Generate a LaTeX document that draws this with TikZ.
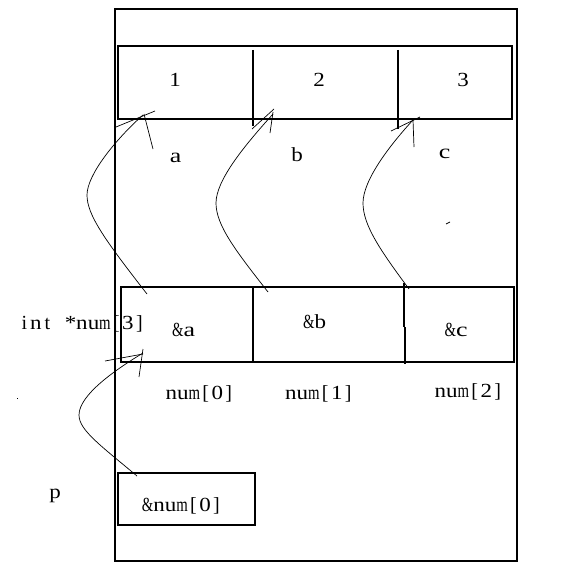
\documentclass[tikz,border=0pt]{standalone}
\usepackage{graphicx}
\usepackage{fontspec}
\newfontfamily\serifcode{Liberation Serif}
\newsavebox\charbox
\newcommand\mc[1]{\sbox\charbox{#1}%
  \ifdim\wd\charbox>8pt
    \resizebox{11.5pt}{\height}{\usebox\charbox}%
  \else
    \makebox[11.5pt]{\usebox\charbox}%
  \fi}
\def\monostr#1{\monoloop#1\relax}
\def\monoloop#1{\ifx#1\relax\else\mc{#1}\expandafter\monoloop\fi}
\begin{document}
\begin{tikzpicture}[x=1pt,y=-1pt,
  box/.style={draw,line width=1.1pt},
  divline/.style={line width=1.1pt},
  txt/.style={font=\serifcode\fontsize{20}{20}\selectfont,inner sep=0pt,anchor=base},
  hand/.style={line width=0.7pt}]
\useasboundingbox (0,0) rectangle (569,578);
% outer frame
\draw[box] (115,9) rectangle (517,561);
% top array
\draw[box] (118,46) rectangle (512,119);
\draw[divline] (253,50) -- (253,126);
\draw[divline] (398,50) -- (398,129);
% middle array
\draw[box] (121,287) rectangle (514,362);
\draw[divline] (253,287) -- (253,362);
\draw[divline] (404,283) -- (404,327) (405,327) -- (405,364);
% bottom box
\draw[box] (118,473) rectangle (255,525);
% texts
\node[txt] (v1) at (175,86) {\monostr{1}};
\node[txt] (v2) at (319,86) {\monostr{2}};
\node[txt] (v3) at (463,86) {\monostr{3}};
\node[txt] (la) at (175.5,162) {\monostr{a}};
\node[txt] (lb) at (297,161) {\monostr{b}};
\node[txt] (lc) at (444.5,158) {\monostr{c}};
\node[txt] (pa) at (183.5,336) {\monostr{\&a}};
\node[txt] (pb) at (314.5,328) {\monostr{\&b}};
\node[txt] (pc) at (456,336) {\monostr{\&c}};
\node[txt] (decl) at (82,329) {\monostr{int}\mc{~}\monostr{*num[3]}};
\node[txt] (n0) at (200,399) {\monostr{num[0]}};
\node[txt] (n1) at (319.5,399) {\monostr{num[1]}};
\node[txt] (n2) at (469,397) {\monostr{num[2]}};
\node[txt] (lp) at (55,498) {\monostr{p}};
\node[txt] (pn) at (182,511) {\monostr{\&num[0]}};
% stray marks
\fill (16.5,397.5) rectangle (18,399);
\draw[hand] (446,224) -- (450,222);
% curve 1
\coordinate (s1) at (147,294);
\coordinate (k1) at (87,195);
\coordinate (t1) at (143,115);
\draw[hand] (s1) .. controls (105,240) and (87,215) .. (k1) .. controls (87,175) and (115,140) .. (t1);
\draw[hand] (116,127) -- (155,111);
\draw[hand] (144,114) -- (153,149);
% curve 2
\coordinate (s2) at (268,292);
\coordinate (k2) at (216,203);
\coordinate (t2) at (273,114);
\draw[hand] (s2) .. controls (235,250) and (216,225) .. (k2) .. controls (216,180) and (245,145) .. (t2);
\draw[hand] (252,129) -- (274,109);
\draw[hand] (273,112) -- (270,133);
% curve 3
\coordinate (s3) at (409,289);
\coordinate (k3) at (363,203);
\coordinate (t3) at (413,120);
\draw[hand] (s3) .. controls (380,250) and (363,225) .. (k3) .. controls (363,180) and (390,145) .. (t3);
\draw[hand] (391,131) -- (420,117);
\draw[hand] (413,120) -- (414,147);
% curve 4
\coordinate (s4) at (137,476);
\coordinate (k4) at (79,415);
\coordinate (t4) at (143,353);
\draw[hand] (s4) .. controls (100,445) and (79,430) .. (k4) .. controls (79,395) and (115,370) .. (t4);
\draw[hand] (105,361) -- (143,354);
\draw[hand] (143,349) -- (139,377);
\end{tikzpicture}
\end{document}
